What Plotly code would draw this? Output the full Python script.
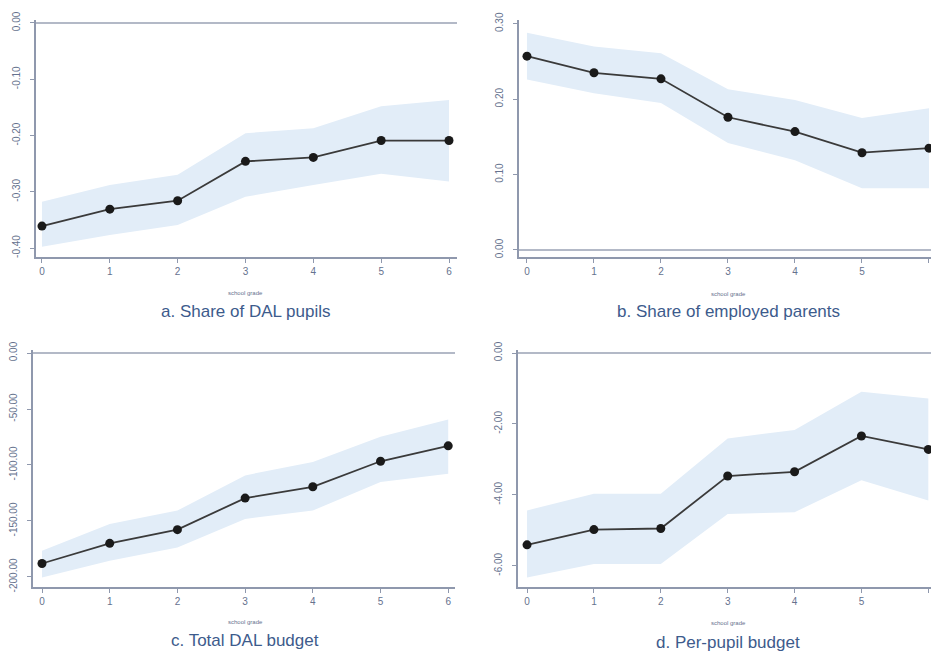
import plotly.graph_objects as go

W, H = 931, 653

grades = [0, 1, 2, 3, 4, 5, 6]

# Panel a: Share of DAL pupils
a_est = [-0.361, -0.331, -0.316, -0.246, -0.239, -0.209, -0.209]
a_hi = [-0.318, -0.288, -0.270, -0.196, -0.187, -0.148, -0.137]
a_lo = [-0.398, -0.377, -0.359, -0.309, -0.288, -0.268, -0.282]

# Panel b: Share of employed parents
b_est = [0.257, 0.235, 0.227, 0.176, 0.157, 0.129, 0.135]
b_hi = [0.288, 0.270, 0.261, 0.213, 0.199, 0.175, 0.188]
b_lo = [0.226, 0.208, 0.195, 0.142, 0.119, 0.082, 0.082]

# Panel c: Total DAL budget
c_est = [-188.0, -170.0, -157.8, -129.6, -119.5, -96.7, -82.9]
c_hi = [-176.6, -152.7, -140.7, -109.3, -97.3, -74.9, -59.3]
c_lo = [-200.6, -185.6, -173.7, -148.2, -140.7, -115.3, -107.8]

# Panel d: Per-pupil budget
d_est = [-5.41, -4.98, -4.95, -3.47, -3.35, -2.34, -2.72]
d_hi = [-4.44, -3.97, -3.97, -2.41, -2.17, -1.09, -1.28]
d_lo = [-6.33, -5.95, -5.95, -4.54, -4.49, -3.59, -4.16]

a_ticks = [0.0, -0.1, -0.2, -0.3, -0.4]
a_ticktext = ["0.00", "-0.10", "-0.20", "-0.30", "-0.40"]
b_ticks = [0.3, 0.2, 0.1, 0.0]
b_ticktext = ["0.30", "0.20", "0.10", "0.00"]
c_ticks = [0, -50, -100, -150, -200]
c_ticktext = ["0.00", "-50.00", "-100.00", "-150.00", "-200.00"]
d_ticks = [0, -2, -4, -6]
d_ticktext = ["0.00", "-2.00", "-4.00", "-6.00"]

titles = ["a. Share of DAL pupils", "b. Share of employed parents",
          "c. Total DAL budget", "d. Per-pupil budget"]
xlabel = "school grade"

BAND = "#e2edf8"
LINE = "#3a3a3a"
AXC = "#8f98ad"
TXT = "#66728e"
TITLEC = "#3d5b8c"

def px(x):
    return x / W

def py(y):
    return 1 - y / H

panels = [
    dict(est=a_est, hi=a_hi, lo=a_lo, ticks=a_ticks, tt=a_ticktext,
         xd=[px(36), px(457)], yd=[py(257), py(20)],
         xr=[-0.088, 6.118], yr=[-0.416, 0.0053],
         lab=(245, 293), tit=(245, 311)),
    dict(est=b_est, hi=b_hi, lo=b_lo, ticks=b_ticks, tt=b_ticktext,
         xd=[px(519), 1.0], yd=[py(257), py(20)],
         xr=[-0.119, 6.03], yr=[-0.0093, 0.305],
         lab=(728, 294), tit=(728, 312)),
    dict(est=c_est, hi=c_hi, lo=c_lo, ticks=c_ticks, tt=c_ticktext,
         xd=[px(33), px(455)], yd=[py(587), py(350)],
         xr=[-0.133, 6.10], yr=[-209.0, 2.7],
         lab=(245, 622), tit=(245, 640)),
    dict(est=d_est, hi=d_hi, lo=d_lo, ticks=d_ticks, tt=d_ticktext,
         xd=[px(518), 1.0], yd=[py(587), py(350)],
         xr=[-0.135, 6.04], yr=[-6.6, 0.085],
         lab=(728, 623), tit=(728, 642)),
]

fig = go.Figure()
layout = dict(width=W, height=H, autosize=False,
              margin=dict(l=0, r=0, t=0, b=0, pad=0),
              paper_bgcolor="white", plot_bgcolor="white",
              showlegend=False, annotations=[])

for i, p in enumerate(panels, start=1):
    xa = "x" if i == 1 else f"x{i}"
    ya = "y" if i == 1 else f"y{i}"
    fig.add_trace(go.Scatter(x=grades, y=p["hi"], mode="lines",
                             line=dict(width=0, color=BAND), xaxis=xa, yaxis=ya,
                             hoverinfo="skip"))
    fig.add_trace(go.Scatter(x=grades, y=p["lo"], mode="lines", fill="tonexty",
                             fillcolor=BAND, line=dict(width=0, color=BAND),
                             xaxis=xa, yaxis=ya, hoverinfo="skip"))
    fig.add_trace(go.Scatter(x=[p["xr"][0], p["xr"][1]], y=[0, 0], mode="lines",
                             line=dict(width=1.5, color="#9aa2b4"),
                             xaxis=xa, yaxis=ya, hoverinfo="skip"))
    fig.add_trace(go.Scatter(x=grades, y=p["est"], mode="lines+markers",
                             line=dict(width=1.8, color=LINE),
                             marker=dict(size=9, color="#1a1a1a"),
                             xaxis=xa, yaxis=ya))
    xkey = "xaxis" if i == 1 else f"xaxis{i}"
    ykey = "yaxis" if i == 1 else f"yaxis{i}"
    layout[xkey] = dict(domain=p["xd"], range=p["xr"], anchor=ya,
                        automargin=False,
                        tickvals=grades, ticktext=[str(g) for g in grades],
                        showline=True, linecolor=AXC, linewidth=2,
                        ticks="outside", ticklen=4, tickcolor=AXC,
                        showgrid=False, zeroline=False,
                        tickfont=dict(family="Liberation Sans", size=10, color=TXT))
    layout[ykey] = dict(domain=p["yd"], range=p["yr"], anchor=xa,
                        automargin=False,
                        tickvals=p["ticks"], ticktext=p["tt"], tickangle=-90,
                        showline=True, linecolor=AXC, linewidth=2,
                        ticks="outside", ticklen=4, tickcolor=AXC,
                        ticklabelstandoff=6,
                        showgrid=False, zeroline=False,
                        tickfont=dict(family="Liberation Sans", size=10, color=TXT))
    layout["annotations"].append(dict(
        x=px(p["lab"][0]), y=py(p["lab"][1]), xref="paper", yref="paper",
        text=xlabel, showarrow=False, xanchor="center", yanchor="middle",
        font=dict(family="Liberation Sans", size=6, color=TXT)))
    layout["annotations"].append(dict(
        x=px(p["tit"][0]), y=py(p["tit"][1]), xref="paper", yref="paper",
        text=titles[i - 1], showarrow=False, xanchor="center", yanchor="middle",
        font=dict(family="Liberation Sans", size=17, color=TITLEC)))

fig.update_layout(**layout)
fig.write_html(
    "out.html",
    config={"responsive": False, "displayModeBar": False},
    post_script=("document.documentElement.style.margin='0';"
                 "document.documentElement.style.overflow='hidden';"
                 "document.body.style.margin='0';"
                 "document.body.style.overflow='hidden';"),
)
